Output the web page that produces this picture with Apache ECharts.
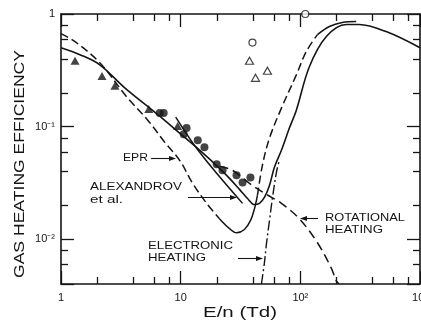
<!DOCTYPE html>
<html><head><meta charset="utf-8">
<script src="https://cdn.jsdelivr.net/npm/echarts@6/dist/echarts.min.js"></script>
<style>html,body{margin:0;padding:0;background:#fff}
#c,#t{position:absolute;left:0;top:0;width:421px;height:320px}
#t{pointer-events:none}</style>
</head><body><div id="c"></div><div id="t"></div>
<script>
// ---- tick labels / ticks ----
const xTickLabels = {'0':'1','1':'10','2':'10²','3':'10³'};
const yTickLabels = {'0':'1','-1':'10⁻¹','-2':'10⁻²'};
const xMinorTicks = [2,4,6,8,20,40,60,80,200,400,600,800];
const yMinorTicks = [0.006,0.008,0.02,0.04,0.06,0.08,0.2,0.4,0.6,0.8];
const X_MIN = 1, X_MAX = 1000, Y_MIN = 0.004, Y_MAX = 1;

// ---- curves (E/n in Td, efficiency) ----
const totalE   = [1, 1.44, 2.11, 3.41, 5.52, 6.68, 9.81, 14.4, 21.1, 25.6, 31.0, 36.2, 41.4, 45.5, 50.1, 55.2, 60.7, 69.5, 81.0, 92.6, 119, 165, 242, 310, 521, 1000];
const totalEff = [0.502, 0.435, 0.354, 0.221, 0.146, 0.124, 0.0875, 0.0617, 0.0426, 0.0347, 0.0277, 0.023, 0.0203, 0.0208, 0.0235, 0.030, 0.0435, 0.0617, 0.097, 0.140, 0.340, 0.63, 0.806, 0.806, 0.698, 0.502];

const eprE   = [1, 1.31, 2.11, 3.55, 5.31, 7.36, 9.81, 12.6, 16.5, 21.1, 25.6, 29.3, 34.1, 38.3, 41.4, 43.8, 48.2, 55.2, 69.5, 92.6, 112, 139, 175, 224, 293];
const eprEff = [0.670, 0.568, 0.369, 0.183, 0.114, 0.0727, 0.0502, 0.0313, 0.0208, 0.0152, 0.0124, 0.0114, 0.0122, 0.0146, 0.0187, 0.0245, 0.0453, 0.0789, 0.146, 0.288, 0.463, 0.656, 0.774, 0.84, 0.857];

const alexE   = [9.09, 14.4, 32.9];
const alexEff = [0.1216, 0.0592, 0.0208];

const rotE   = [21.1, 27.1, 37.6, 52.1, 69.5, 98.1, 139, 181, 200, 211];
const rotEff = [0.0444, 0.0409, 0.0313, 0.0250, 0.0208, 0.0152, 0.0093, 0.00557, 0.00427, 0.0040];

const elecE   = [47.3, 50.1, 52.1, 55.2, 58.4, 63.1, 66.8];
const elecEff = [0.0040, 0.00617, 0.0091, 0.0146, 0.023, 0.0392, 0.0502];

// ---- measured points ----
const triFilledE   = [1.31, 2.20, 2.82, 5.41, 9.44];
const triFilledEff = [0.384, 0.282, 0.230, 0.143, 0.101];
const dotE   = [6.68, 7.21, 11.2, 10.6, 13.9, 15.8, 20.0, 22.4, 29.3, 32.9, 38.3];
const dotEff = [0.132, 0.132, 0.097, 0.0857, 0.0758, 0.0656, 0.0463, 0.0409, 0.0369, 0.0319, 0.0354];
const openCircE   = [39.8, 110];
const openCircEff = [0.557, 1.0];
const openTriE   = [37.6, 42.2, 53.1];
const openTriEff = [0.384, 0.271, 0.313];

const zip = (a, b) => a.map((v, i) => [v, b[i]]);
const INK = '#151515';
const GRID = {left: 61, right: 1, top: 14, bottom: 36, containLabel: false, outerBoundsMode: 'none'};

function logLabel(map) {
  return function (v) {
    const l = Math.log10(v), k = Math.round(l);
    if (Math.abs(l - k) > 1e-6) return '';
    return map[String(k)] !== undefined ? map[String(k)] : '';
  };
}
const mkLine = () => ({show: true, lineStyle: {color: INK, width: 1.6}});
const mkTick = () => ({show: true, inside: true, length: 13, lineStyle: {color: INK, width: 1.3}});
const lblFont = () => ({fontFamily: 'Liberation Sans', fontSize: 11, color: INK});

function lineSeries(data, type, width) {
  return {
    type: 'line', data: data, showSymbol: false, symbol: 'none', smooth: 0.35,
    lineStyle: {color: INK, width: width || 1.5, type: type},
    xAxisIndex: 0, yAxisIndex: 0, z: 3
  };
}

// EPR curve style segments (index ranges into eprE)
const eprSegments = [[0, 9, [8, 4]], [9, 15, 'solid'], [15, 21, [8, 4]], [21, 24, 'solid']];
const eprSeries = eprSegments.map(s => lineSeries(zip(eprE, eprEff).slice(s[0], s[1] + 1), s[2]));

// ---- annotation text stretched to the letter-spaced widths of the original ----
const els = [];
const mctx = document.createElement('canvas').getContext('2d');
function stretchedText(text, x, y, size, width, opts) {
  opts = opts || {};
  const font = size + 'px "Liberation Sans"';
  mctx.font = font;
  const w = mctx.measureText(text).width || width;
  els.push({
    type: 'text', x: x, y: y, rotation: opts.rotation || 0, scaleX: width / w, silent: true, z: 10,
    style: {text: text, font: font, fill: INK, align: opts.align || 'left', verticalAlign: 'middle'}
  });
}
function arrow(x1, y, x2) {
  const dir = x2 > x1 ? 1 : -1;
  els.push({type: 'line', shape: {x1: x1, y1: y + 0.5, x2: x2 - dir * 4, y2: y + 0.5}, style: {stroke: INK, lineWidth: 1.1}, silent: true, z: 10});
  els.push({type: 'polygon', shape: {points: [[x2, y + 0.5], [x2 - dir * 7, y - 2], [x2 - dir * 7, y + 3]]}, style: {fill: INK}, silent: true, z: 10});
}
stretchedText('GAS HEATING EFFICIENCY', 20, 164, 14, 228, {rotation: Math.PI / 2, align: 'center'});
stretchedText('E/n (Td)', 240, 313, 14, 74, {align: 'center'});
stretchedText('EPR', 123, 158, 11, 25);
stretchedText('ALEXANDROV', 90, 187, 11, 92);
stretchedText('et al.', 90, 200, 11, 33);
stretchedText('ELECTRONIC', 148, 246, 11, 85);
stretchedText('HEATING', 148, 258, 11, 58);
stretchedText('ROTATIONAL', 325, 218, 11, 80);
stretchedText('HEATING', 325, 230, 11, 58);
arrow(151, 158, 176);
arrow(188, 197, 237);
arrow(238, 258, 263);
arrow(318, 218, 300);

// ================= main chart: frame, labels, curves, points, annotations =================
const chart = echarts.init(document.getElementById('c'), null, {renderer: 'canvas', devicePixelRatio: 1});
chart.setOption({
  animation: false,
  grid: GRID,
  xAxis: [
    {type: 'log', logBase: 10, min: X_MIN, max: X_MAX, position: 'bottom',
     axisLine: mkLine(), axisTick: {show: false}, splitLine: {show: false},
     axisLabel: Object.assign({margin: 8, formatter: logLabel(xTickLabels)}, lblFont())},
    {type: 'log', logBase: 10, min: X_MIN, max: X_MAX, position: 'top',
     axisLine: mkLine(), axisTick: {show: false}, splitLine: {show: false}, axisLabel: {show: false}}
  ],
  yAxis: [
    {type: 'log', logBase: 10, min: Y_MIN, max: Y_MAX, position: 'left',
     axisLine: mkLine(), axisTick: {show: false}, splitLine: {show: false},
     axisLabel: Object.assign({margin: 6, formatter: logLabel(yTickLabels)}, lblFont())},
    {type: 'log', logBase: 10, min: Y_MIN, max: Y_MAX, position: 'right',
     axisLine: mkLine(), axisTick: {show: false}, splitLine: {show: false}, axisLabel: {show: false}}
  ],
  series: [
    lineSeries(zip(totalE, totalEff), 'solid', 1.6),
    lineSeries(zip(alexE, alexEff), 'solid', 1.5),
    lineSeries(zip(rotE, rotEff), [9, 5], 1.5),
    lineSeries(zip(elecE, elecEff), [10, 3, 2, 3], 1.4)
  ].concat(eprSeries, [
    {type: 'scatter', data: zip(triFilledE, triFilledEff), symbol: 'triangle', symbolSize: [9, 8],
     itemStyle: {color: INK}, z: 5},
    {type: 'scatter', data: zip(dotE, dotEff), symbol: 'circle', symbolSize: 8,
     itemStyle: {color: INK}, z: 5},
    {type: 'scatter', data: zip(openCircE, openCircEff), symbol: 'circle', symbolSize: 7,
     itemStyle: {color: '#fff', borderColor: INK, borderWidth: 1.2}, clip: false, z: 5},
    {type: 'scatter', data: zip(openTriE, openTriEff), symbol: 'triangle', symbolSize: [8, 7],
     itemStyle: {color: '#fff', borderColor: INK, borderWidth: 1.2}, z: 5}
  ]),
  graphic: els
});

// ================= tick layer: same grid and log axes, inward major + minor ticks =================
const tickChart = echarts.init(document.getElementById('t'), null, {renderer: 'canvas', devicePixelRatio: 1});
const hiddenLine = () => ({show: false});
tickChart.setOption({
  animation: false,
  backgroundColor: 'transparent',
  grid: GRID,
  xAxis: [
    {type: 'log', logBase: 10, min: X_MIN, max: X_MAX, position: 'bottom', axisLine: hiddenLine(),
     axisTick: mkTick(), splitLine: {show: false}, axisLabel: {show: false}},
    {type: 'log', logBase: 10, min: X_MIN, max: X_MAX, position: 'top', axisLine: hiddenLine(),
     axisTick: mkTick(), splitLine: {show: false}, axisLabel: {show: false}}
  ],
  yAxis: [
    {type: 'log', logBase: 10, min: Y_MIN, max: Y_MAX, position: 'left', axisLine: hiddenLine(),
     axisTick: mkTick(), splitLine: {show: false}, axisLabel: {show: false}},
    {type: 'log', logBase: 10, min: Y_MIN, max: Y_MAX, position: 'right', axisLine: hiddenLine(),
     axisTick: mkTick(), splitLine: {show: false}, axisLabel: {show: false}}
  ],
  series: []
});
const toPx = p => tickChart.convertToPixel({xAxisIndex: 0, yAxisIndex: 0}, p);
const tickEls = [];
function tick(x1, y1, x2, y2) {
  tickEls.push({type: 'line', shape: {x1: x1, y1: y1, x2: x2, y2: y2},
    style: {stroke: INK, lineWidth: 1.3}, silent: true});
}
xMinorTicks.forEach(v => {
  const b = toPx([v, Y_MIN]), t = toPx([v, Y_MAX]);
  const x = Math.round(b[0]) + 0.5;
  tick(x, b[1], x, b[1] - 7);
  tick(x, t[1], x, t[1] + 7);
});
yMinorTicks.forEach(v => {
  const l = toPx([X_MIN, v]), r = toPx([X_MAX, v]);
  const y = Math.round(l[1]) + 0.5;
  tick(l[0], y, l[0] + 7, y);
  tick(r[0], y, r[0] - 7, y);
});
tickChart.setOption({graphic: tickEls});
</script>
</body></html>
